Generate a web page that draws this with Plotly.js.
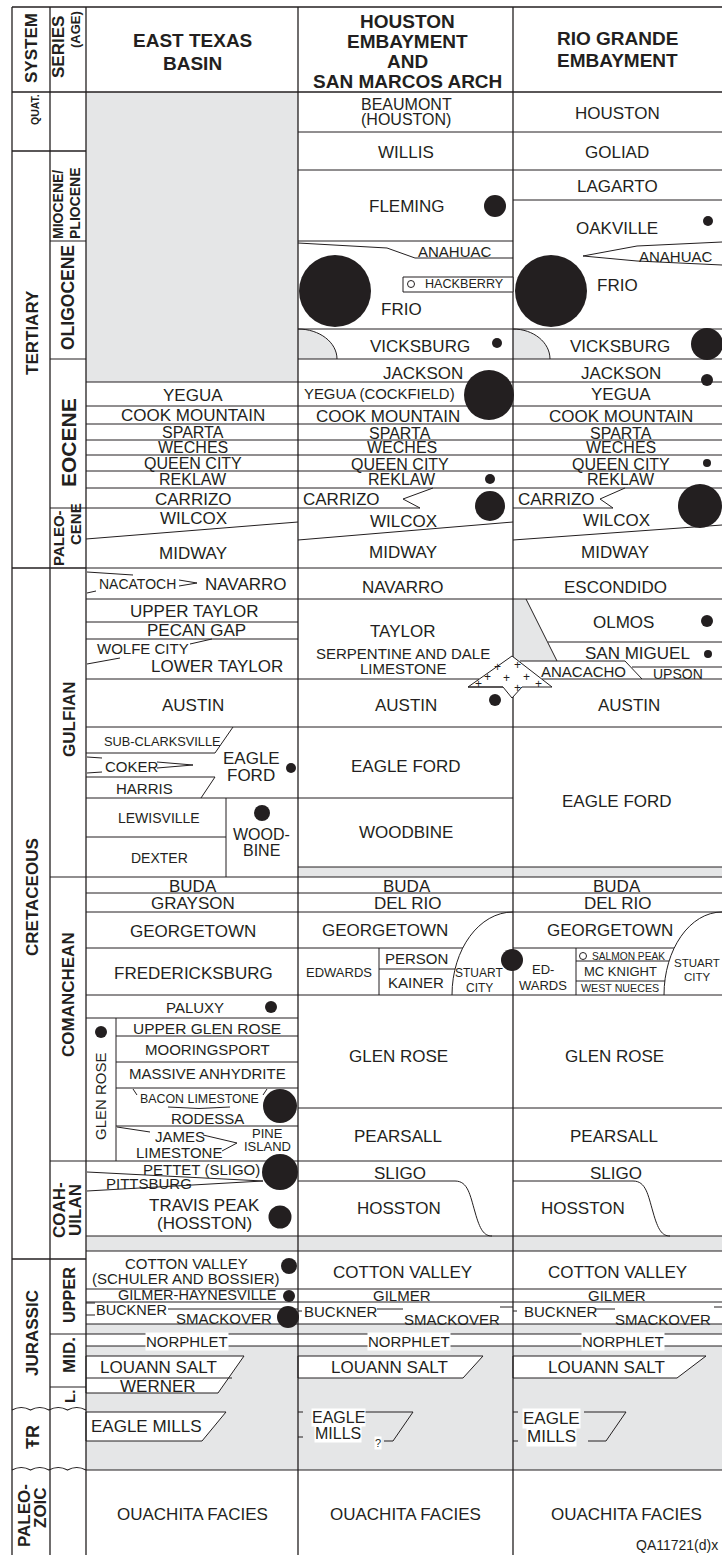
<!DOCTYPE html>
<html><head><meta charset="utf-8">
<script src="https://cdn.plot.ly/plotly-3.0.1.min.js"></script>
<style>html,body{margin:0;padding:0;background:#fff}#chart{width:722px;height:1555px}</style>
</head><body><div id="chart"></div>
<script>
// ---------------- DATA ----------------
const headerTitles = ["SYSTEM","SERIES","(AGE)","EAST TEXAS<br>BASIN","HOUSTON<br>EMBAYMENT<br>AND<br>SAN MARCOS ARCH","RIO GRANDE<br>EMBAYMENT"];
const systemNames = ["QUAT.","TERTIARY","CRETACEOUS","JURASSIC","ŦR","PALEO-","ZOIC"];
const seriesNames = ["MIOCENE/","PLIOCENE","OLIGOCENE","EOCENE","PALEO-","CENE","GULFIAN","COMANCHEAN","COAH-","UILAN","UPPER","MID.","L."];
const eastTexasUnits = ["YEGUA","COOK MOUNTAIN","SPARTA","WECHES","QUEEN CITY","REKLAW","CARRIZO","WILCOX","MIDWAY",
  "NACATOCH","NAVARRO","UPPER TAYLOR","PECAN GAP","WOLFE CITY","LOWER TAYLOR","AUSTIN","SUB-CLARKSVILLE","COKER","HARRIS",
  "EAGLE<br>FORD","LEWISVILLE","DEXTER","WOOD-<br>BINE","BUDA","GRAYSON","GEORGETOWN","FREDERICKSBURG","PALUXY","GLEN ROSE",
  "UPPER GLEN ROSE","MOORINGSPORT","MASSIVE ANHYDRITE","BACON LIMESTONE","RODESSA","JAMES","LIMESTONE","PINE<br>ISLAND",
  "PETTET (SLIGO)","PITTSBURG","TRAVIS PEAK<br>(HOSSTON)","COTTON VALLEY<br>(SCHULER AND BOSSIER)","GILMER-HAYNESVILLE",
  "BUCKNER","SMACKOVER","NORPHLET","LOUANN SALT","WERNER","EAGLE MILLS","OUACHITA FACIES"];
const houstonUnits = ["BEAUMONT<br>(HOUSTON)","WILLIS","FLEMING","ANAHUAC","HACKBERRY","FRIO","VICKSBURG","JACKSON","YEGUA (COCKFIELD)",
  "COOK MOUNTAIN","SPARTA","WECHES","QUEEN CITY","REKLAW","CARRIZO","WILCOX","MIDWAY","NAVARRO","TAYLOR","SERPENTINE AND DALE",
  "LIMESTONE","AUSTIN","EAGLE FORD","WOODBINE","BUDA","DEL RIO","GEORGETOWN","EDWARDS","PERSON","KAINER","STUART<br>CITY",
  "GLEN ROSE","PEARSALL","SLIGO","HOSSTON","COTTON VALLEY","GILMER","BUCKNER","SMACKOVER","NORPHLET","LOUANN SALT",
  "EAGLE<br>MILLS","?","OUACHITA FACIES"];
const rioGrandeUnits = ["HOUSTON","GOLIAD","LAGARTO","OAKVILLE","ANAHUAC","FRIO","VICKSBURG","JACKSON","YEGUA","COOK MOUNTAIN",
  "SPARTA","WECHES","QUEEN CITY","REKLAW","CARRIZO","WILCOX","MIDWAY","ESCONDIDO","OLMOS","SAN MIGUEL","ANACACHO","UPSON",
  "AUSTIN","EAGLE FORD","BUDA","DEL RIO","GEORGETOWN","ED-<br>WARDS","SALMON PEAK","MC KNIGHT","WEST NUECES","STUART<br>CITY",
  "GLEN ROSE","PEARSALL","SLIGO","HOSSTON","COTTON VALLEY","GILMER","BUCKNER","SMACKOVER","NORPHLET","LOUANN SALT",
  "EAGLE<br>MILLS","OUACHITA FACIES"];
const figureId = "QA11721(d)x";
// producing-unit dots (center x, center y, radius)
const dotX = [495,335,497,489,490,490,495,512, 708,551,707,707,707,700,707,708, 291,262,271,101,280,280,280,289,289,288];
const dotY = [206,291,343,395,479,506,700,960, 221,291,344,380,463,506,621,654, 768,813,1007,1032,1106,1172,1217,1266,1296,1317];
const dotR = [11,36,5,25,5,15,6,11, 5,36,16,6,4,22,6,4, 5,8,6,6,17,18,11.5,8,6,11];
const openX = [411,583], openY = [284,956];

// ---------------- PLACEMENT ----------------
const SANS = '"Liberation Sans", Arial, Helvetica, sans-serif';
let NARROW = SANS, NSCALE = 1;
(function(){
  const c = document.createElement('canvas').getContext('2d');
  c.font = '40px "Liberation Sans Narrow", monospace'; const a = c.measureText('ABCDEFGHIJKLMN').width;
  c.font = '40px monospace'; const b = c.measureText('ABCDEFGHIJKLMN').width;
  if (Math.abs(a-b) > 1) { NARROW = '"Liberation Sans Narrow", ' + SANS; NSCALE = 1/0.82; }
})();
const INK = '#231f20', GRAY = '#e5e6e7';
const X0=12, XS=50, XE=86, XH=298, XR=513, XEND=722;

const headerPlace = [[31,48,17,{b:1,r:1}],[58,47,17,{b:1,r:1}],[75,30,13,{b:1,r:1,n:1}],
  [192,51.5,19,{b:1,sp:23}],[407,51,19,{b:1,sp:20}],[617,49,19,{b:1,sp:22}]];
const systemPlace = [[35,110,10.5,{b:1,r:1}],[32,333,17,{b:1,r:1}],[32,897,17,{b:1,r:1}],[32,1333,17,{b:1,r:1}],
  [33,1437,18,{b:1,r:1}],[24,1516,17,{b:1,r:1}],[40,1508,17,{b:1,r:1}]];
const seriesPlace = [[58,205,14,{b:1,r:1,n:1}],[75,203,14,{b:1,r:1,n:1}],[68,298,17.5,{b:1,r:1,n:1}],[68,443,21,{b:1,r:1}],
  [58,538,15,{b:1,r:1}],[75,524,15,{b:1,r:1}],[69,719,17,{b:1,r:1}],[68,995,17,{b:1,r:1}],[59,1210,17,{b:1,r:1}],
  [75,1210,17,{b:1,r:1}],[69,1295,16.3,{b:1,r:1,n:1}],[69,1355,17,{b:1,r:1}],[69,1397,15,{b:1,r:1}]];
const etPlace = [[193,395,17],[193,415,17],[193,432,16],[193,447,16],[193,463,16],[193,479,16],[193,499,17],[193,518,17],[193,553,17],
  [137,584,14],[246,584,17],[194,611,17],[196,630,17],[96,648,15,{a:'left'}],[217,666,17],[193,705,17],[103,741,12.8,{a:'left',n:1}],
  [104,766,15,{a:'left'}],[144,788,15],
  [251,766.5,17,{sp:17}],[159,818,14],[159,858,14],[261,842,16,{sp:16}],[193,886,17],[193,903,17],[193,931,17],[193,973,17],[195,1007,15],
  [100,1096,15,{r:1}],
  [207,1028,15.5],[207,1049,15],[207,1073,15],[199,1099,12.4,{n:1}],[207,1118,15],[180,1136,15],[179,1152,15],[267,1139.5,13,{sp:13}],
  [201,1169,15],[105,1183,15,{a:'left'}],[204,1214,17,{sp:18}],[186,1270.5,15,{sp:15}],[197,1295,14.5],
  [95,1310,14.5,{a:'left'}],[224,1318,15],[187,1341,15,{bg:'#fff'}],[158,1367,17],[158,1386,17],[146,1426,17],[192,1514,17]];
const houPlace = [[406,111.5,16,{sp:15}],[406,152,17],[407,206,17],[455,251,15],[464,284,12.6,{n:1}],[401,309,17],[420,346,17],[423,373,17],
  [303,394,14.9,{a:'left',n:1}],
  [388,416,17],[400,433,16],[402,447,16],[400,464,16],[402,479,16],[302,499,17,{a:'left'}],[403,521,17],[403,552,17],[403,587,17],[403,631,17],[403,653,15],
  [403,668,15],[406,705,17],[406,766,17],[406,832,17],[407,886,17],[407,903,17],[385,930,17],[339,972,13,{n:1}],[416,958,15],[416,982,15],[479,980.5,12,{sp:15,n:1}],
  [398,1056,17],[398,1136,17],[400,1173,17],[399,1208,17],[402,1272,17],[402,1295,15],[303,1311,15,{a:'left'}],[452,1319,15],[409,1341,15,{bg:'#fff'}],[389,1367,17],
  [338,1425.5,16,{sp:15.5,bg:'#fff'}],[378,1443,11,{bg:'#fff'}],[405,1514,17]];
const rioPlace = [[617,113,17],[617,152,17],[617,186,17],[617,228,17],[676,256,15],[617,285,17],[620,346,17],[621,373,17],[621,394,17],[621,416,17],
  [621,433,16],[621,447,16],[621,464,16],[621,479,16],[517,499,17,{a:'left'}],[616,520,17],[615,552,17],[615,587,17],[623,622,17],[637,653,17],[583,671,15],[678,674,14],
  [629,705,17],[617,801,17],[617,886,17],[617,903,17],[610,930,17],[543,977,13,{sp:16,n:1}],[628,956,10.2,{n:1}],[620,971,13,{n:1}],[620,988,10.7,{n:1}],[697,970,11.5,{sp:14,n:1}],
  [614,1056,17],[614,1136,17],[616,1173,17],[583,1208,17],[617,1272,17],[617,1295,15],[523,1311,15,{a:'left'}],[663,1319,15],[623,1341,15,{bg:'#fff'}],[606,1367,17],
  [551,1427,17,{sp:18,bg:'#fff'}],[626,1514,17]];
const plusPlace = [[497,667],[517,665],[487,677],[506,678],[526,677],[517,688],[478,684],[538,684]];

// ---------------- BUILD ----------------
const S = [], A = [];
const ln = (x0,y0,x1,y1,w) => S.push({type:'line',xref:'x',yref:'y',x0,y0,x1,y1,layer:'below',line:{color:INK,width:w||1}});
const hl = (x0,x1,y,w) => ln(x0,y,x1,y,w);
const vl = (x,y0,y1,w) => ln(x,y0,x,y1,w);
const rect = (x0,y0,x1,y1,fill) => S.push({type:'rect',xref:'x',yref:'y',x0,y0,x1,y1,layer:'below',fillcolor:fill,line:{width:0}});
const path = (d,fill,w) => S.push({type:'path',xref:'x',yref:'y',path:d,layer:'below',fillcolor:fill||'rgba(0,0,0,0)',line:{color:INK,width:w===undefined?1:w}});
const poly = (pts,fill,w) => path('M'+pts.map(p=>p.join(',')).join(' L')+' Z',fill,w);

function label(t,x,y,s,o){
  o = o||{};
  const lines = t.split('<br>'), n = lines.length, sp = o.sp || s;
  lines.forEach((tx,i)=>{
    const off = (i-(n-1)/2)*sp;
    A.push({text:tx, xref:'x', yref:'y', x:o.r? x+off : x, y:o.r? y : y+off, showarrow:false,
      xanchor:o.r?'center':(o.a||'center'), yanchor:'middle', textangle:o.r?-90:0,
      font:{family:o.n?NARROW:SANS, size:o.n? s*NSCALE : s, color:INK, weight:o.b?'bold':'normal'},
      bgcolor:o.bg||'rgba(0,0,0,0)', borderpad:0});
  });
}
function place(names, pos){ names.forEach((t,i)=>{ const p=pos[i]; label(t,p[0],p[1],p[2],p[3]); }); }

// gray fills
rect(XE,92,XH,382,GRAY);
rect(XH,867,XEND,877,GRAY);
rect(XE,1236,XEND,1251,GRAY);
rect(XE,1324,XEND,1334,GRAY);
rect(XE,1346,XEND,1470,GRAY);
poly([[513,599],[526,599],[557,661],[513,661]],GRAY,0);
path('M298,329 C319.5,329 337,342.4 337,359 L298,359 Z',GRAY,0);
path('M298,329 C319.5,329 337,342.4 337,359',null,1);
path('M513,329 C533.4,329 550,342.4 550,359 L513,359 Z',GRAY,0);
path('M513,329 C533.4,329 550,342.4 550,359',null,1);
// white boxes in lower gray zone
poly([[86,1356],[244,1356],[218,1393],[86,1393]],'#fff',1);
hl(86,232,1378);
poly([[298,1356],[483,1356],[463,1378],[298,1378]],'#fff',1);
poly([[513,1356],[706,1356],[677,1378],[513,1378]],'#fff',1);
poly([[86,1412],[226,1412],[202,1441],[86,1441]],'#fff',1);
// Houston & Rio Eagle Mills outlines
hl(298,303,1412); hl(298,303,1437); hl(362,413,1412); ln(413,1412,393,1441); hl(384,393,1441);
hl(513,518,1412); hl(513,518,1441); hl(584,626,1412); ln(626,1412,606,1441); hl(588,606,1441);

// frame
hl(X0,XEND,7,1.3); hl(X0,XEND,92,1.3);
[X0,XS,XE,XH,XR].forEach(x=>vl(x,7,1555,1.3));
// system + series
[151,568,1259].forEach(y=>hl(X0,XE,y,1.3));
[241,359,508,877,1161,1334,1387].forEach(y=>hl(XS,XE,y,1.2));
function wavy(y){ let d='M12,'+y; const xs=[12,30.5,49,67.5,86];
  for(let i=1;i<xs.length;i++){ d+=' Q'+((xs[i-1]+xs[i])/2)+','+(y-5)+' '+xs[i]+','+y; } return d; }
path(wavy(1410),null,1.2); path(wavy(1470),null,1.2);
// full-width formation lines
[568,1161,1236,1251,1324,1470].forEach(y=>hl(XE,XEND,y,1.2));
[599,727,877,893,912,995,1289,1302,1334,1346].forEach(y=>hl(XE,XEND,y,1));
// East Texas
[382,406,424,440,455,471,488,508,622,639,679,798,948,1018].forEach(y=>hl(XE,XH,y));
ln(86,539,298,522);
[1036,1062,1088,1126].forEach(y=>hl(116,XH,y)); vl(116,1018,1161);
vl(226,798,877); hl(86,226,837);
// Nacatoch / Wolfe City / Eagle Ford wedges
ln(87,572,133,575); ln(87,593,96,591); ln(179,580,197,583); ln(179,586,197,583);
ln(87,664,120,658); ln(190,644,212,639);
hl(86,215,753); ln(215,753,233,727);
ln(87,757,102,758); ln(87,773,102,772); ln(157,762,193,765); ln(157,768,193,765);
hl(86,215,777); ln(215,777,201,798);
// Bacon / James limestone
ln(133,1089,137,1095); ln(267,1089,263,1095); path('M168,1107 Q199,1110 230,1107',null,1);
ln(117,1127,150,1132); ln(203,1135,237,1143); ln(222,1151,237,1143);
// Pettet / Pittsburg
ln(87,1172,263,1181); ln(87,1191,263,1181);
// Buckner ticks
hl(86,95,1303); hl(86,95,1315); hl(168,XH,1309);
// Houston
[132,170,241,329,359,382,406,424,440,455,471,488,798].forEach(y=>hl(XH,XR,y));
hl(298,420,508); ln(433,488,403,499); ln(403,499,420,508);
ln(298,540,513,522);
path('M298,243 L387,248 L415,258 L513,258',null,1);
S.push({type:'rect',xref:'x',yref:'y',x0:403,y0:277,x1:513,y1:292,layer:'below',fillcolor:'#fff',line:{color:INK,width:1}});
hl(298,479,679); hl(XH,XR,867);
hl(298,463,948); vl(379,948,995); hl(379,455,969);
path('M452,995 C452,949.2 479.3,912 513,912',null,1);
hl(XH,XR,1108); hl(298,455,1181);
path('M455,1181 C468,1181 470,1195 475,1212 C480,1230 484,1236 492,1236',null,1);
hl(377,403,1309); hl(500,513,1307); hl(298,302,1311);
// Rio Grande
[132,170,329,359,382,406,424,440,455,471,488].forEach(y=>hl(XR,XEND,y));
hl(513,722,200);
path('M722,242 L637,246 L583,256 L637,261 L722,265',null,1);
hl(513,613,508); ln(625,488,600,499); ln(600,499,613,508);
ln(513,540,722,525);
ln(526,599,557,661); hl(548,722,642); hl(520,625,661); ln(625,661,642,679); hl(632,722,667); hl(542,722,679);
hl(XR,XEND,867);
hl(513,674,948); vl(576,948,995); hl(576,669,961); hl(576,665,981);
path('M664,995 C664,949.2 690,912 722,912',null,1);
hl(XR,XEND,1108); hl(513,633,1181);
path('M633,1181 C646,1181 648,1195 653,1212 C658,1230 662,1236 670,1236',null,1);
hl(595,615,1309); hl(714,722,1307); hl(513,517,1311);
// igneous intrusion
poly([[468,687],[512,656],[552,687],[522,687],[512,698],[503,687]],'#fff',1);
hl(468,503,687);

// labels
place(headerTitles, headerPlace);
place(systemNames, systemPlace);
place(seriesNames, seriesPlace);
place(eastTexasUnits, etPlace);
place(houstonUnits, houPlace);
place(rioGrandeUnits, rioPlace);
plusPlace.forEach(p=>label('+',p[0],p[1],12));
A.push({text:figureId,xref:'x',yref:'y',x:720,y:1545,xanchor:'right',yanchor:'middle',showarrow:false,font:{family:SANS,size:14,color:INK}});

const traces = [
  {type:'scatter',mode:'markers',x:dotX,y:dotY,hoverinfo:'skip',cliponaxis:true,
   marker:{size:dotR.map(r=>2*r),color:INK,line:{width:0},opacity:1}},
  {type:'scatter',mode:'markers',x:openX,y:openY,hoverinfo:'skip',
   marker:{size:7,symbol:'circle-open',color:INK,line:{width:1,color:INK}}}
];
const layout = {width:722,height:1555,margin:{l:0,r:0,t:0,b:0,pad:0},paper_bgcolor:'#fff',plot_bgcolor:'#fff',
  showlegend:false,xaxis:{range:[0,722],visible:false,fixedrange:true},yaxis:{range:[1555,0],visible:false,fixedrange:true},
  shapes:S,annotations:A,hovermode:false};
Plotly.newPlot('chart',traces,layout,{staticPlot:true,displayModeBar:false});
</script>
</body></html>
